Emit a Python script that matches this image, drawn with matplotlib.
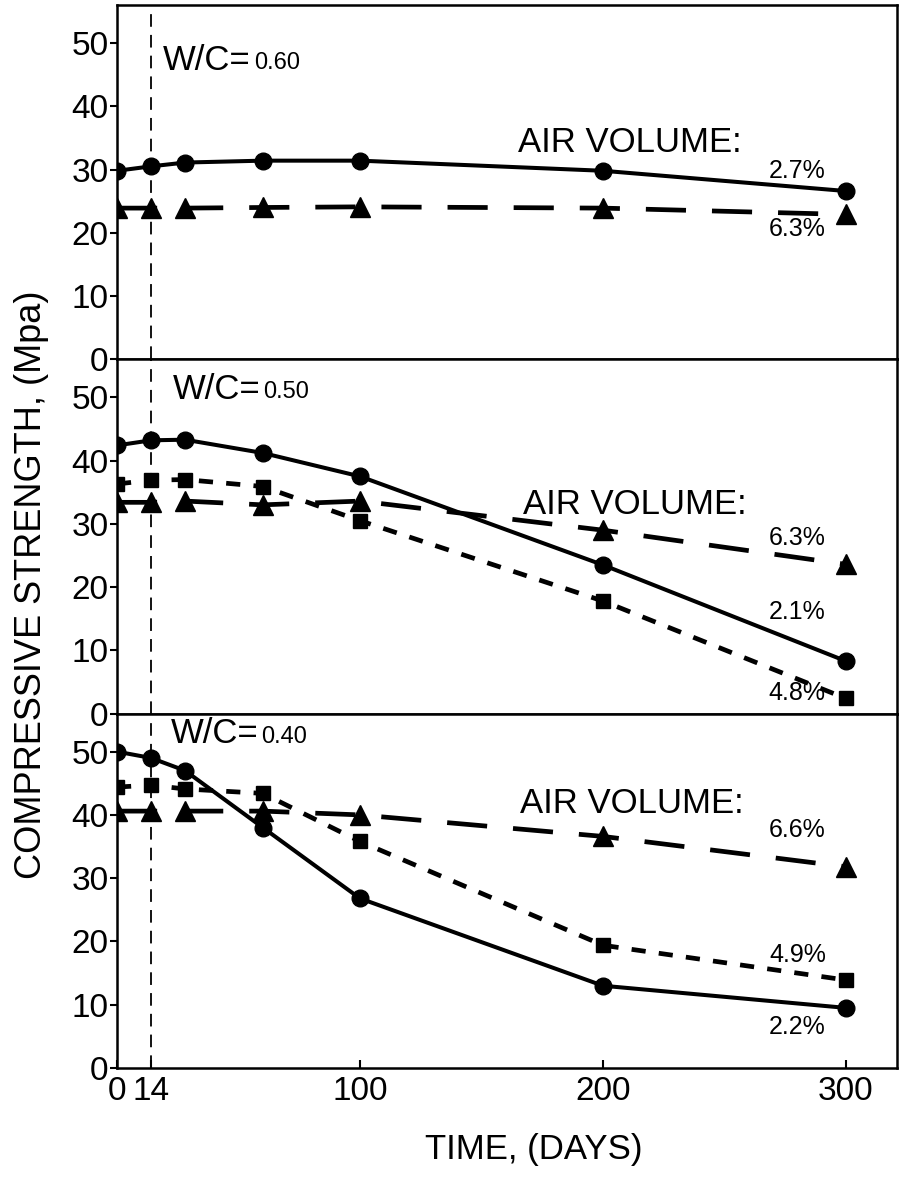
import matplotlib
matplotlib.use("Agg")
import matplotlib.pyplot as plt

plt.rcParams['font.family'] = ['Liberation Sans', 'DejaVu Sans']

# ---- data ----
days = [0, 14, 28, 60, 100, 200, 300]
xtick_vals = [0, 14, 100, 200, 300]
xtick_labels = ['0', '14', '100', '200', '300']
ytick_vals = [0, 10, 20, 30, 40, 50]

wc60_air27 = [29.8, 30.5, 31.1, 31.4, 31.4, 29.8, 26.6]
wc60_air63 = [23.9, 23.9, 23.9, 24.0, 24.1, 23.9, 22.9]

wc50_air21 = [42.4, 43.2, 43.3, 41.2, 37.5, 23.5, 8.3]
wc50_air48 = [36.3, 36.9, 37.0, 35.9, 30.5, 17.8, 2.4]
wc50_air63 = [33.4, 33.4, 33.6, 33.0, 33.6, 29.0, 23.6]

wc40_air22 = [50.0, 49.0, 47.0, 38.0, 26.8, 13.0, 9.5]
wc40_air49 = [44.4, 44.7, 44.1, 43.4, 35.8, 19.4, 13.9]
wc40_air66 = [40.6, 40.6, 40.6, 40.6, 40.0, 36.6, 31.8]

panel_titles = ['0.60', '0.50', '0.40']

# ---- figure ----
fig = plt.figure(figsize=(9.11, 11.80), dpi=100)
left, width = 117 / 911, 780 / 911
bottom_all, top_all = 112 / 1180, 1 - 5 / 1180
ph = (top_all - bottom_all) / 3

axes = []
for i in range(3):
    b = bottom_all + (2 - i) * ph
    ax = fig.add_axes([left, b, width, ph])
    axes.append(ax)

solid = dict(color='black', lw=2.9, linestyle='-', marker='o', ms=12)
longdash = dict(color='black', lw=3.4, linestyle=(0, (8.5, 5.5)), marker='^', ms=15)
shortdash = dict(color='black', lw=3.4, linestyle=(0, (3.0, 2.8)), marker='s', ms=10)

for ax in axes:
    ax.set_xlim(0, 321)
    ax.set_ylim(0, 56)
    ax.set_yticks(ytick_vals)
    ax.tick_params(axis='y', direction='out', length=5, width=1.5, labelsize=24, pad=1)
    for s in ax.spines.values():
        s.set_linewidth(1.8)
    ax.axvline(14, color='black', lw=1.3, linestyle=(0, (7, 4.5)))

for ax in axes[:2]:
    ax.set_xticks([])

axes[2].set_xticks(xtick_vals)
axes[2].set_xticklabels(xtick_labels)
axes[2].tick_params(axis='x', direction='in', length=6, width=1.5, labelsize=24, pad=6)

# top panel
a = axes[0]
a.plot(days, wc60_air63, **longdash)
a.plot(days, wc60_air27, **solid)
# middle panel
a = axes[1]
a.plot(days, wc50_air63, **longdash)
a.plot(days, wc50_air48, **shortdash)
a.plot(days, wc50_air21, **solid)
# bottom panel
a = axes[2]
a.plot(days, wc40_air66, **longdash)
a.plot(days, wc40_air49, **shortdash)
a.plot(days, wc40_air22, **solid)

# W/C labels
wc_pos = [(19, 45.8), (23, 49.8), (22, 51.3)]
for ax, (x, y), t in zip(axes, wc_pos, panel_titles):
    t1 = ax.text(x, y, 'W/C=', fontsize=25, ha='left', va='baseline')
    ax.annotate(t, xy=(1, 0), xycoords=t1, xytext=(2, 2), textcoords='offset points',
                fontsize=17, ha='left', va='bottom')

# AIR VOLUME labels
air_pos = [(165, 32.7), (167, 31.5), (166, 40.3)]
for ax, (x, y) in zip(axes, air_pos):
    ax.text(x, y, 'AIR VOLUME:', fontsize=25, ha='left', va='baseline')

# percent labels
pct = [
    (0, '2.7%', 29.8), (0, '6.3%', 20.6),
    (1, '6.3%', 27.7), (1, '2.1%', 16.0), (1, '4.8%', 3.2),
    (2, '6.6%', 37.6), (2, '4.9%', 17.9), (2, '2.2%', 6.5),
]
for i, t, y in pct:
    axes[i].text(280, y, t, fontsize=18, ha='center', va='center')

fig.text(32 / 911, 1 - 585 / 1180, 'COMPRESSIVE STRENGTH, (Mpa)', rotation=90,
         fontsize=26, ha='center', va='center')
fig.text(534 / 911, 1 - 1150 / 1180, 'TIME, (DAYS)', fontsize=25, ha='center', va='center')

fig.savefig('out.png', dpi=100)
